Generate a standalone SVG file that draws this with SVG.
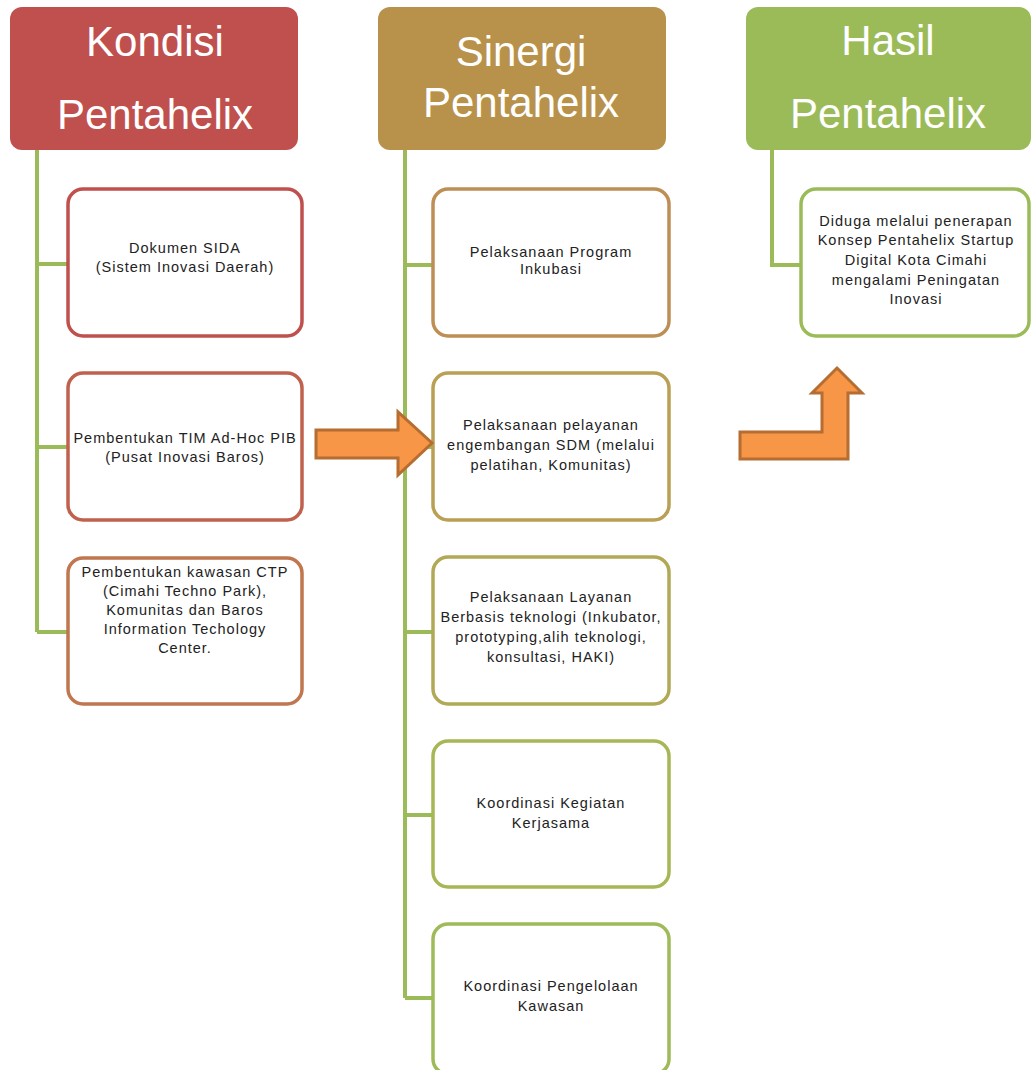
<svg xmlns="http://www.w3.org/2000/svg" width="1031" height="1070" viewBox="0 0 1031 1070">
<style>
.hd{font-family:"Liberation Sans",Arial,sans-serif;font-size:42px;fill:#ffffff;text-anchor:middle}
.tx{font-family:"Liberation Sans",Arial,sans-serif;font-size:14.5px;fill:#222222;text-anchor:middle;letter-spacing:1px}
.box{fill:#ffffff;stroke-width:3.5}
.ln{fill:none;stroke:#9bbb59;stroke-width:4;stroke-linejoin:miter}
.arr{fill:#f79646;stroke:#b66d31;stroke-width:3;stroke-linejoin:miter}
</style>
<rect width="1031" height="1070" fill="#ffffff"/>
<g id="connectors">
<path class="ln" d="M37,150 V632 M37,264 H68 M37,447 H68 M37,632 H68"/>
<path class="ln" d="M405,150 V998 M405,265 H433 M405,447 H433 M405,632 H433 M405,815 H433 M405,998 H433"/>
<path class="ln" d="M772,150 V265 H801"/>
</g>
<g id="header-kondisi">
<rect x="10" y="7" width="288" height="143" rx="12" fill="#c0504d"/>
<text class="hd" x="155" y="56">Kondisi</text>
<text class="hd" x="155" y="129">Pentahelix</text>
</g>
<g id="header-sinergi">
<rect x="378" y="7" width="288" height="143" rx="12" fill="#b8924a"/>
<text class="hd" x="521" y="66">Sinergi</text>
<text class="hd" x="521" y="117">Pentahelix</text>
</g>
<g id="header-hasil">
<rect x="746" y="7" width="285" height="143" rx="12" fill="#9bbb59"/>
<text class="hd" x="888" y="55">Hasil</text>
<text class="hd" x="888" y="128">Pentahelix</text>
</g>
<g id="k1">
<rect class="box" x="68" y="189" width="234" height="147" rx="15" stroke="#c0504d"/>
<text class="tx" x="185" y="253">Dokumen SIDA</text>
<text class="tx" x="185" y="272">(Sistem Inovasi Daerah)</text>
</g>
<g id="k2">
<rect class="box" x="68" y="373" width="234" height="147" rx="15" stroke="#c0614e"/>
<text class="tx" x="185" y="443">Pembentukan TIM Ad-Hoc PIB</text>
<text class="tx" x="185" y="462">(Pusat Inovasi Baros)</text>
</g>
<g id="k3">
<rect class="box" x="68" y="558" width="234" height="146" rx="15" stroke="#c0764f"/>
<text class="tx" x="185" y="577">Pembentukan kawasan CTP</text>
<text class="tx" x="185" y="596">(Cimahi Techno Park),</text>
<text class="tx" x="185" y="615">Komunitas dan Baros</text>
<text class="tx" x="185" y="634">Information Techology</text>
<text class="tx" x="185" y="653">Center.</text>
</g>
<g id="s1">
<rect class="box" x="433" y="189" width="236" height="147" rx="15" stroke="#bd8f55"/>
<text class="tx" x="551" y="257">Pelaksanaan Program</text>
<text class="tx" x="551" y="274">Inkubasi</text>
</g>
<g id="s2">
<rect class="box" x="433" y="373" width="236" height="147" rx="15" stroke="#b9a054"/>
<text class="tx" x="551" y="430">Pelaksanaan pelayanan</text>
<text class="tx" x="551" y="450">engembangan SDM (melalui</text>
<text class="tx" x="551" y="470">pelatihan, Komunitas)</text>
</g>
<g id="s3">
<rect class="box" x="433" y="557" width="236" height="147" rx="15" stroke="#b1a955"/>
<text class="tx" x="551" y="602">Pelaksanaan Layanan</text>
<text class="tx" x="551" y="622">Berbasis teknologi (Inkubator,</text>
<text class="tx" x="551" y="642">prototyping,alih teknologi,</text>
<text class="tx" x="551" y="662">konsultasi, HAKI)</text>
</g>
<g id="s4">
<rect class="box" x="433" y="741" width="236" height="146" rx="15" stroke="#a8b656"/>
<text class="tx" x="551" y="808">Koordinasi Kegiatan</text>
<text class="tx" x="551" y="828">Kerjasama</text>
</g>
<g id="s5">
<rect class="box" x="433" y="924" width="236" height="150" rx="15" stroke="#9fbb59"/>
<text class="tx" x="551" y="991">Koordinasi Pengelolaan</text>
<text class="tx" x="551" y="1011">Kawasan</text>
</g>
<g id="h1">
<rect class="box" x="801" y="189" width="228" height="147" rx="15" stroke="#9bbb59"/>
<text class="tx" x="916" y="226">Diduga melalui penerapan</text>
<text class="tx" x="916" y="245">Konsep Pentahelix Startup</text>
<text class="tx" x="916" y="265">Digital Kota Cimahi</text>
<text class="tx" x="916" y="285">mengalami Peningatan</text>
<text class="tx" x="916" y="304">Inovasi</text>
</g>
<g id="arrows">
<path class="arr" d="M316,430 L398,430 L398,412 L432,443 L398,475 L398,458 L316,458 Z"/>
<path class="arr" d="M740,432 L822,432 L822,393 L812,393 L837,368 L862,393 L848,393 L848,459 L740,459 Z"/>
</g>
</svg>
